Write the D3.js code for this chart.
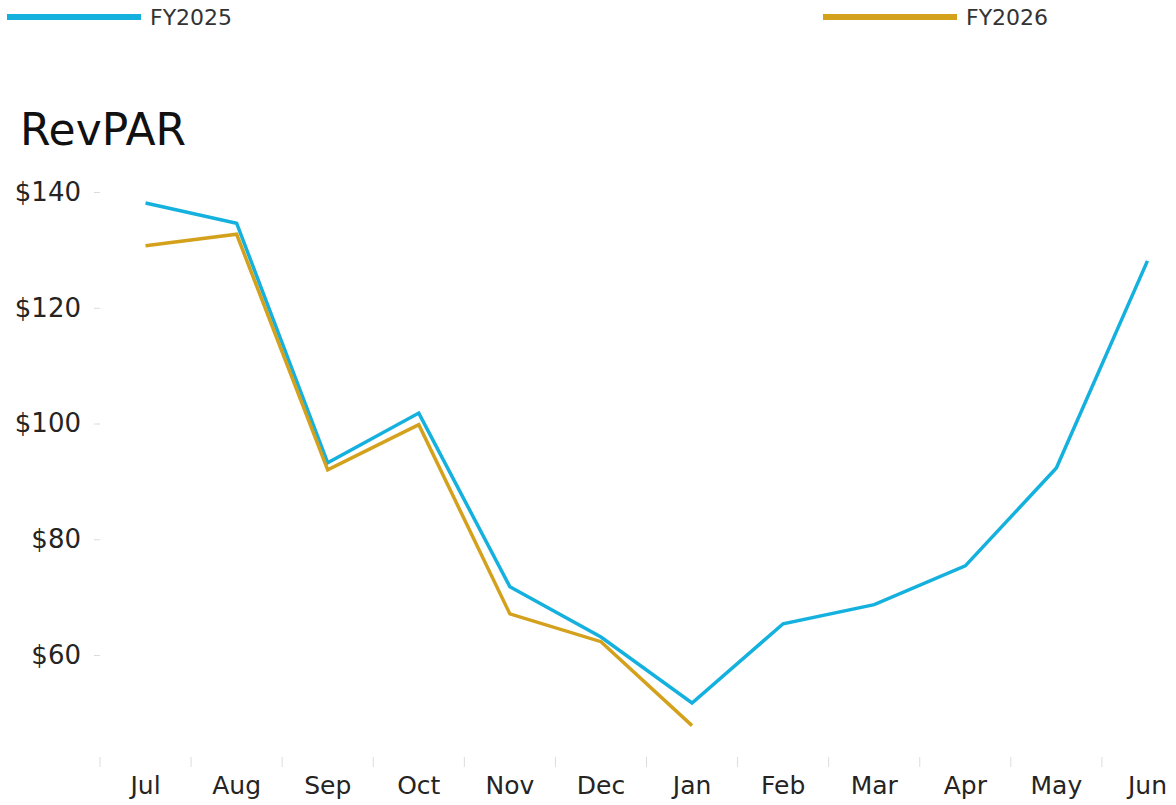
<!DOCTYPE html>
<html>
<head>
<meta charset="utf-8">
<script src="https://cdn.jsdelivr.net/npm/d3@7"></script>
<style>
  html, body { margin: 0; padding: 0; background: #fff; }
  svg { display: block; }
  text { font-family: "DejaVu Sans", Verdana, sans-serif; }
</style>
</head>
<body>
<svg id="chart" width="1176" height="805"></svg>
<script>
const months = ["Jul","Aug","Sep","Oct","Nov","Dec","Jan","Feb","Mar","Apr","May","Jun"];
const fy2025 = [138.1, 134.6, 93.2, 101.8, 71.8, 63.1, 51.7, 65.4, 68.7, 75.4, 92.3, 128.1];
const fy2026 = [130.7, 132.7, 92.0, 99.8, 67.1, 62.3, 47.8];
const yTicks = [60, 80, 100, 120, 140];
const seriesNames = ["FY2025", "FY2026"];
const colors = ["#15B1DE", "#D4A11C"];

const svg = d3.select("#chart");

const x = d3.scaleBand().domain(months).range([100, 1193]);
const y = d3.scaleLinear().domain([60, 140]).range([655, 192]);

// Y axis
const yAxis = svg.append("g")
  .attr("transform", "translate(100,0)")
  .call(d3.axisLeft(y).tickValues(yTicks).tickFormat(d => "$" + d).tickSize(6).tickPadding(13));
yAxis.select(".domain").remove();
yAxis.selectAll(".tick line").attr("stroke", "#dcdcdc");
yAxis.selectAll(".tick text")
  .attr("fill", "#252423")
  .style("font-size", "26px")
  .style("font-family", "DejaVu Sans, Verdana, sans-serif");

// X axis labels
const xAxis = svg.append("g")
  .attr("transform", "translate(0,757)")
  .call(d3.axisBottom(x).tickSize(0).tickPadding(19));
xAxis.select(".domain").remove();
xAxis.selectAll(".tick text")
  .attr("fill", "#252423")
  .style("font-size", "25px")
  .style("font-family", "DejaVu Sans, Verdana, sans-serif");

// X boundary ticks
svg.append("g").selectAll("line")
  .data(months)
  .join("line")
  .attr("x1", d => x(d))
  .attr("x2", d => x(d))
  .attr("y1", 757)
  .attr("y2", 767)
  .attr("stroke", "#dcdcdc")
  .attr("stroke-width", 1);

// Lines
const line = d3.line()
  .x((d, i) => x(months[i]) + x.bandwidth() / 2)
  .y(d => y(d));

[fy2025, fy2026].forEach((s, k) => {
  svg.append("path")
    .datum(s)
    .attr("fill", "none")
    .attr("stroke", colors[k])
    .attr("stroke-width", 3.5)
    .attr("stroke-linejoin", "miter")
    .attr("d", line);
});

// Title
svg.append("text")
  .attr("x", 20)
  .attr("y", 145)
  .attr("fill", "#111")
  .style("font-size", "44px")
  .text("RevPAR");

// Legend
const legendX = [7, 823];
seriesNames.forEach((n, k) => {
  svg.append("line")
    .attr("x1", legendX[k]).attr("x2", legendX[k] + 134)
    .attr("y1", 17).attr("y2", 17)
    .attr("stroke", colors[k])
    .attr("stroke-width", 6);
  svg.append("text")
    .attr("x", legendX[k] + 143)
    .attr("y", 25)
    .attr("fill", "#333")
    .style("font-size", "22px")
    .text(n);
});
</script>
</body>
</html>
